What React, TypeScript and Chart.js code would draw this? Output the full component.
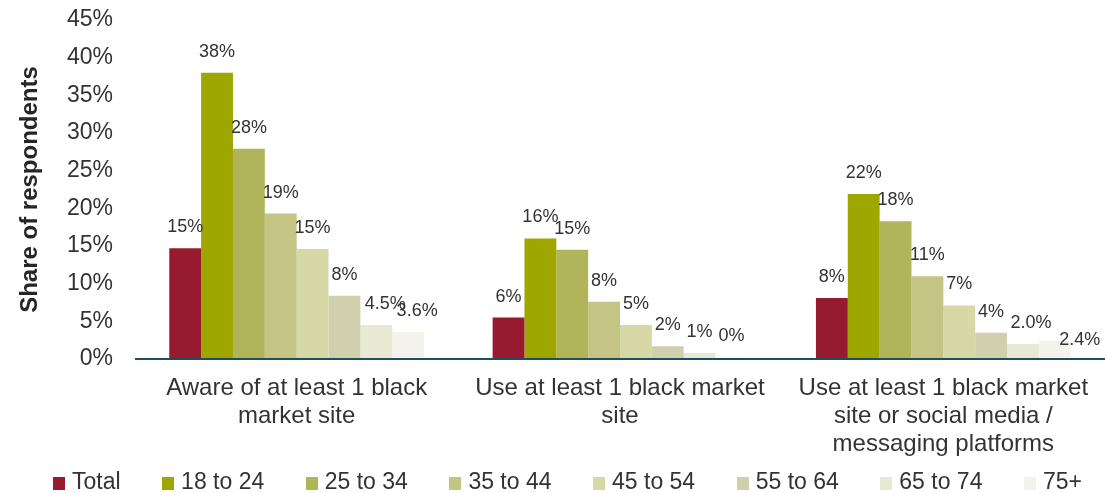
import React, { useEffect, useRef } from "react";
import { Chart, registerables } from "chart.js";

Chart.register(...registerables);

const categories = [
  ["Aware of at least 1 black", "market site"],
  ["Use at least 1 black market", "site"],
  ["Use at least 1 black market", "site or social media /", "messaging platforms"],
];

const seriesNames = ["Total", "18 to 24", "25 to 34", "35 to 44", "45 to 54", "55 to 64", "65 to 74", "75+"];

const totalValues = [14.7, 5.5, 8.1];
const age18to24 = [38.0, 16.0, 21.9];
const age25to34 = [27.9, 14.5, 18.3];
const age35to44 = [19.3, 7.6, 11.0];
const age45to54 = [14.6, 4.5, 7.1];
const age55to64 = [8.4, 1.7, 3.5];
const age65to74 = [4.5, 0.8, 2.0];
const age75plus = [3.6, 0.2, 2.4];

const totalLabels = ["15%", "6%", "8%"];
const age18to24Labels = ["38%", "16%", "22%"];
const age25to34Labels = ["28%", "15%", "18%"];
const age35to44Labels = ["19%", "8%", "11%"];
const age45to54Labels = ["15%", "5%", "7%"];
const age55to64Labels = ["8%", "2%", "4%"];
const age65to74Labels = ["4.5%", "1%", "2.0%"];
const age75plusLabels = ["3.6%", "0%", "2.4%"];

const yTicks = [0, 5, 10, 15, 20, 25, 30, 35, 40, 45];

const seriesValues = [totalValues, age18to24, age25to34, age35to44, age45to54, age55to64, age65to74, age75plus];
const seriesLabels = [
  totalLabels, age18to24Labels, age25to34Labels, age35to44Labels,
  age45to54Labels, age55to64Labels, age65to74Labels, age75plusLabels,
];

const colors = ["#971b2f", "#9ea700", "#b0b55c", "#c4c584", "#d6d8a6", "#d0d0ae", "#e8e9d3", "#f3f3eb"];

// label nudges (series-category) : [dx, dy]
const labelNudges: Record<string, [number, number]> = {
  "6-0": [9, 0],
  "7-0": [9, 0],
  "6-2": [8, 0],
  "7-2": [25, 20],
};

const FONT = "'Liberation Sans', Arial, Helvetica, sans-serif";
const TEXT = "#333333";

const valueLabelPlugin = {
  id: "valueLabels",
  afterDatasetsDraw(chart: any) {
    const ctx = chart.ctx;
    const area = chart.chartArea;
    const y0 = chart.scales.y.getPixelForValue(0);
    ctx.save();
    // baseline axis drawn over bars
    ctx.strokeStyle = "#1f4f5f";
    ctx.lineWidth = 2;
    ctx.beginPath();
    ctx.moveTo(area.left, y0);
    ctx.lineTo(area.right, y0);
    ctx.stroke();

    ctx.font = `18px ${FONT}`;
    ctx.fillStyle = TEXT;
    ctx.textAlign = "center";
    ctx.textBaseline = "middle";
    chart.data.datasets.forEach((_ds: any, di: number) => {
      const meta = chart.getDatasetMeta(di);
      meta.data.forEach((bar: any, i: number) => {
        const n = labelNudges[`${di}-${i}`] || [0, 0];
        ctx.fillText(seriesLabels[di][i], bar.x + n[0], bar.y - 21 + n[1]);
      });
    });
    ctx.restore();
  },
};

export default function App() {
  const canvasRef = useRef<HTMLCanvasElement | null>(null);

  useEffect(() => {
    document.body.style.margin = "0";
    const canvas = canvasRef.current;
    if (!canvas) return;
    const chart = new Chart(canvas, {
      type: "bar",
      data: {
        labels: categories as any,
        datasets: seriesNames.map((name, i) => ({
          label: name,
          data: seriesValues[i],
          backgroundColor: colors[i],
          borderWidth: 0,
          categoryPercentage: 0.788,
          barPercentage: 1.0,
        })),
      },
      options: {
        responsive: false,
        animation: false,
        devicePixelRatio: 1,
        layout: { padding: { top: 20, right: 0, left: 0, bottom: 0 } },
        plugins: {
          legend: { display: false },
          tooltip: { enabled: false },
        },
        scales: {
          x: {
            grid: { display: false, drawTicks: false },
            border: { display: false },
            ticks: {
              font: { family: FONT, size: 24, lineHeight: 1.15 },
              color: TEXT,
              padding: 16,
              maxRotation: 0,
              autoSkip: false,
            },
            afterFit: (s: any) => {
              s.height = 134;
            },
          },
          y: {
            min: 0,
            max: 45,
            afterBuildTicks: (s: any) => {
              s.ticks = yTicks.map((v) => ({ value: v }));
            },
            grid: { display: false, drawTicks: false },
            border: { display: false },
            ticks: {
              font: { family: FONT, size: 23 },
              color: TEXT,
              padding: 22,
              callback: (v: any) => `${v}%`,
            },
            title: {
              display: true,
              text: "Share of respondents",
              font: { family: FONT, size: 24, weight: "bold" },
              color: "#262626",
              padding: { top: 16, bottom: 0 },
            },
            afterFit: (s: any) => {
              s.width = 135;
              s.paddingTop = 0;
              s.paddingBottom = 0;
            },
          },
        },
      },
      plugins: [valueLabelPlugin],
    });
    return () => chart.destroy();
  }, []);

  return (
    <div style={{ position: "absolute", left: 0, top: 0, width: 1105, height: 493, background: "#ffffff" }}>
      <canvas ref={canvasRef} width={1105} height={493} style={{ display: "block" }} />
      <div
        style={{
          position: "absolute",
          left: 53,
          top: 468,
          height: 26,
          display: "flex",
          alignItems: "center",
          fontFamily: FONT,
          fontSize: 23,
          color: TEXT,
          whiteSpace: "nowrap",
        }}
      >
        {seriesNames.map((name, i) => (
          <div key={name} style={{ display: "flex", alignItems: "center", marginRight: i < seriesNames.length - 1 ? 41.5 : 0 }}>
            <span style={{ display: "inline-block", width: 12, height: 13, background: colors[i], marginRight: 7, marginTop: 4 }} />
            <span>{name}</span>
          </div>
        ))}
      </div>
    </div>
  );
}
